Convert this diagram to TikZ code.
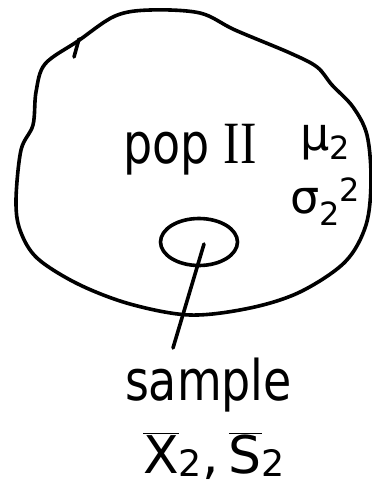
\documentclass[tikz,border=0pt]{standalone}
\usepackage{fontspec}
\usepackage{graphicx}
\setmainfont{DejaVu Sans}
\setsansfont{DejaVu Sans}
\newfontfamily\romfont{Liberation Serif}
\usetikzlibrary{shapes.geometric}
\newcommand{\smallidx}[1]{{\fontsize{32}{32}\selectfont #1}}
\begin{document}
\begin{tikzpicture}[x=1pt,y=-1pt,
  ink/.style={draw=black, line width=3.6pt, line cap=round, line join=round},
  hand/.style={inner sep=0pt, outer sep=0pt},
  big/.style={hand, font=\fontsize{56}{56}\selectfont},
  mid/.style={hand, font=\fontsize{46}{46}\selectfont}]
\useasboundingbox (0,0) rectangle (372,490);
% population blob
\draw[ink] plot[smooth cycle, tension=0.55] coordinates {
  (150,10) (200,13) (235,30) (290,53) (317,67) (332,85) (353,107) (367,135)
  (371,180) (366,225) (345,262) (300,292) (250,308) (190,315) (130,304)
  (78,284) (37,258) (20,230) (16,200) (21,150) (33,125) (36,92) (45,64)
  (78,41) (115,16)};
\draw[ink] (79,39) -- (74,57);
% labels inside population
\node[big, anchor=base west] (pop) at (123,163)
  {\scalebox{0.82}[1]{pop {\romfont\fontsize{60}{60}\selectfont II}}};
\node[mid, anchor=base west] (mu) at (300,150)
  {μ\raisebox{-9pt}{\smallidx{2}}};
\node[mid, anchor=base west] (sigma) at (290,213)
  {σ\raisebox{-12pt}{\smallidx{2}}\raisebox{12pt}{\smallidx{2}}};
% sample
\node[ink, ellipse, minimum width=77pt, minimum height=47pt, inner sep=0pt] (samp) at (199,242) {};
\coordinate (tail) at (173,348);
\draw[ink] ([xshift=5pt,yshift=-2pt]samp.center) -- (tail);
\node[big, anchor=base west] (sample) at (125,400) {\scalebox{0.82}[1]{sample}};
\node[hand, font=\fontsize{52}{52}\selectfont, anchor=base west] (stats) at (143,473)
  {$\overline{\mathsf{X}}_{\mathsf{2}}\hbox{,\kern10pt}\overline{\mathsf{S}}_{\mathsf{2}}$};
\end{tikzpicture}
\end{document}
